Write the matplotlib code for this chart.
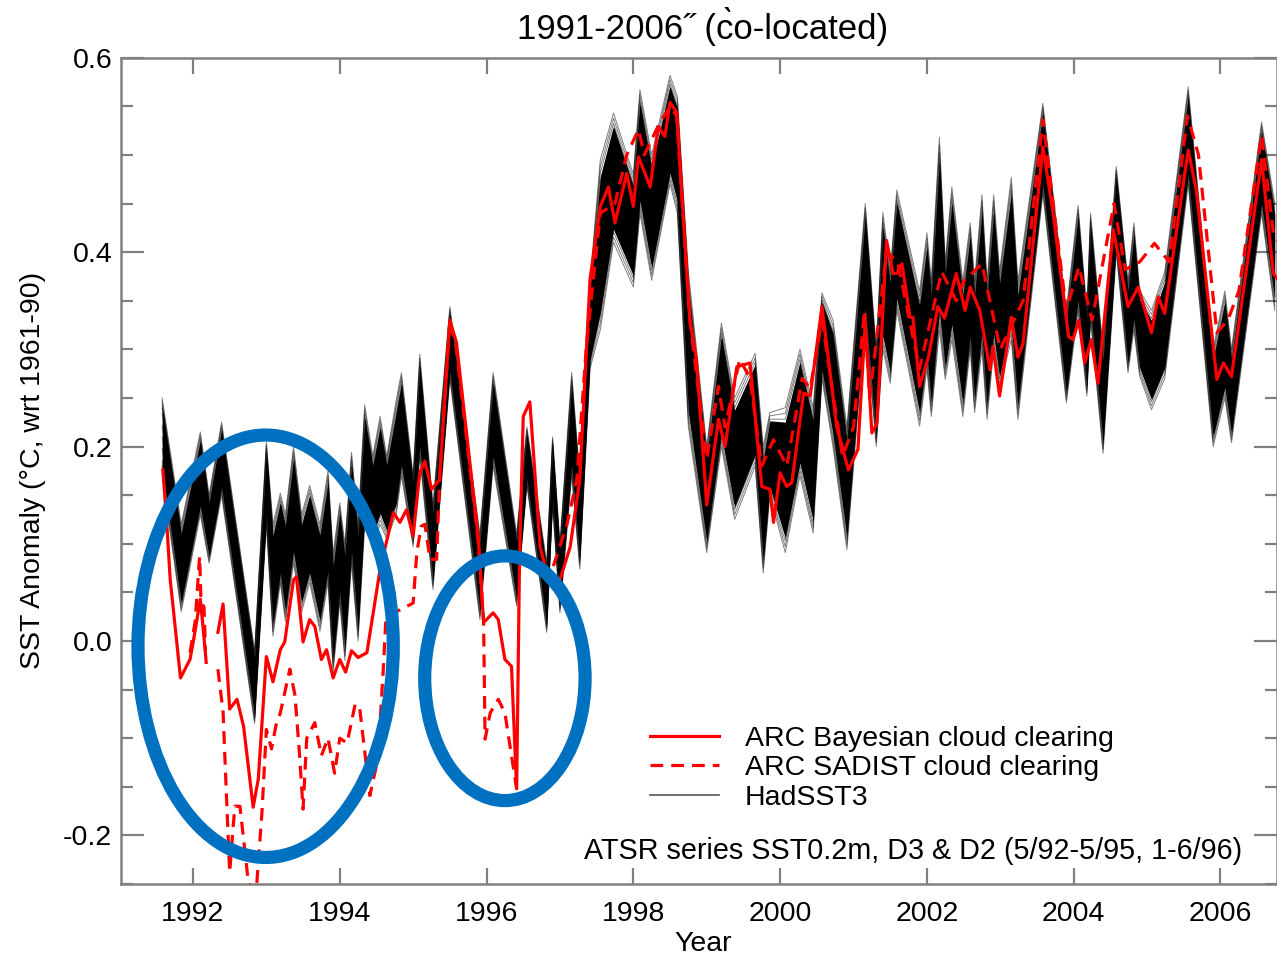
import numpy as np
import matplotlib
matplotlib.use("Agg")
import matplotlib.pyplot as plt
from matplotlib.lines import Line2D
from matplotlib.patches import Ellipse

plt.rcParams['font.family'] = ['Liberation Sans', 'DejaVu Sans']

nan = float('nan')

# HadSST3 ensemble envelope (turning points): time, lower and upper edge
had_t = [1991.58, 1991.84, 1992.10, 1992.22, 1992.39, 1992.84, 1993.00, 1993.09, 1993.19, 1993.26,
         1993.37, 1993.48, 1993.59, 1993.73, 1993.84, 1993.91, 1994.00, 1994.07, 1994.16, 1994.25,
         1994.34, 1994.45, 1994.55, 1994.64, 1994.77, 1994.84, 1995.00, 1995.09, 1995.27, 1995.50,
         1995.91, 1996.09, 1996.41, 1996.55, 1996.82, 1996.90, 1997.00, 1997.16, 1997.27, 1997.41,
         1997.55, 1997.73, 1998.00, 1998.09, 1998.25, 1998.50, 1998.60, 1998.75, 1999.00, 1999.20,
         1999.38, 1999.66, 1999.77, 1999.86, 2000.07, 2000.27, 2000.45, 2000.57, 2000.72, 2000.91,
         2001.16, 2001.31, 2001.40, 2001.50, 2001.59, 2001.90, 2002.00, 2002.06, 2002.17, 2002.25,
         2002.34, 2002.49, 2002.59, 2002.65, 2002.75, 2002.82, 2002.91, 2002.99, 2003.15, 2003.24,
         2003.58, 2003.90, 2004.06, 2004.18, 2004.23, 2004.40, 2004.58, 2004.74, 2004.82, 2004.90,
         2005.06, 2005.24, 2005.56, 2005.90, 2006.06, 2006.15, 2006.56, 2006.74]
had_lo = [0.17, 0.03, 0.13, 0.08, 0.15, -0.085, 0.12, 0.005, 0.06, 0.02,
          0.08, 0.03, 0.06, 0.01, 0.06, -0.032, 0.04, -0.02, 0.08, 0.00,
          0.12, 0.10, 0.12, 0.105, 0.13, 0.17, 0.097, 0.19, 0.053, 0.27,
          0.022, 0.18, 0.036, 0.16, 0.009, 0.14, 0.029, 0.17, 0.074, 0.28,
          0.32, 0.41, 0.364, 0.44, 0.371, 0.47, 0.44, 0.22, 0.091, 0.20,
          0.125, 0.18, 0.07, 0.15, 0.091, 0.17, 0.111, 0.27, 0.20, 0.094,
          0.33, 0.20, 0.30, 0.265, 0.34, 0.221, 0.28, 0.231, 0.32, 0.269,
          0.31, 0.231, 0.30, 0.235, 0.30, 0.228, 0.30, 0.26, 0.31, 0.228,
          0.46, 0.245, 0.34, 0.252, 0.33, 0.193, 0.40, 0.276, 0.32, 0.272,
          0.238, 0.27, 0.47, 0.20, 0.25, 0.204, 0.44, 0.34]
had_hi = [0.25, 0.12, 0.215, 0.15, 0.225, -0.01, 0.205, 0.12, 0.152, 0.13,
          0.20, 0.13, 0.16, 0.12, 0.175, 0.09, 0.142, 0.10, 0.194, 0.12,
          0.243, 0.19, 0.231, 0.19, 0.248, 0.276, 0.17, 0.295, 0.14, 0.344,
          0.11, 0.276, 0.11, 0.22, 0.08, 0.21, 0.10, 0.276, 0.17, 0.37,
          0.495, 0.543, 0.48, 0.567, 0.50, 0.582, 0.56, 0.38, 0.20, 0.327,
          0.25, 0.296, 0.20, 0.235, 0.24, 0.30, 0.24, 0.358, 0.33, 0.22,
          0.45, 0.30, 0.441, 0.38, 0.464, 0.36, 0.42, 0.37, 0.518, 0.39,
          0.467, 0.37, 0.43, 0.37, 0.459, 0.37, 0.459, 0.38, 0.477, 0.37,
          0.553, 0.34, 0.448, 0.34, 0.44, 0.30, 0.488, 0.37, 0.43, 0.36,
          0.34, 0.38, 0.57, 0.30, 0.36, 0.30, 0.534, 0.45]

# ARC Bayesian cloud clearing
bayes_t = [1991.59, 1991.64, 1991.69, 1991.83, 1991.96, 1992.01, 1992.10, 1992.14, 1992.18, 1992.26,
           1992.34, 1992.41, 1992.50, 1992.60, 1992.69, 1992.82, 1992.89, 1993.00, 1993.09, 1993.19,
           1993.25, 1993.37, 1993.41, 1993.50, 1993.59, 1993.66, 1993.75, 1993.82, 1993.91, 1994.00,
           1994.08, 1994.16, 1994.25, 1994.37, 1994.55, 1994.73, 1994.82, 1994.91, 1995.00, 1995.09,
           1995.16, 1995.25, 1995.36, 1995.50, 1995.59, 1995.89, 1995.96, 1996.00, 1996.09, 1996.16,
           1996.25, 1996.34, 1996.41, 1996.45, 1996.50, 1996.59, 1996.73, 1996.82, 1997.00, 1997.14,
           1997.27, 1997.41, 1997.55, 1997.66, 1997.75, 1997.91, 1998.00, 1998.07, 1998.23, 1998.34,
           1998.43, 1998.50, 1998.59, 1998.77, 1998.86, 1999.00, 1999.16, 1999.25, 1999.41, 1999.59,
           1999.75, 1999.86, 1999.91, 2000.00, 2000.09, 2000.16, 2000.32, 2000.41, 2000.57, 2000.77,
           2000.93, 2001.06, 2001.16, 2001.25, 2001.32, 2001.45, 2001.54, 2001.59, 2001.66, 2001.77,
           2001.81, 2001.90, 2002.02, 2002.15, 2002.24, 2002.40, 2002.52, 2002.59, 2002.72, 2002.86,
           2002.90, 2002.99, 2003.15, 2003.24, 2003.31, 2003.58, 2003.72, 2003.93, 2003.99, 2004.07,
           2004.15, 2004.24, 2004.33, 2004.54, 2004.74, 2004.88, 2005.06, 2005.15, 2005.24, 2005.56,
           2005.67, 2005.95, 2006.04, 2006.15, 2006.56, 2006.72, 2006.80]
bayes_v = [0.176, 0.125, 0.063, -0.038, -0.019, 0.002, 0.043, 0.012, -0.022, nan,
           0.009, 0.038, -0.070, -0.060, -0.088, -0.171, -0.142, -0.016, -0.042, -0.009,
           -0.001, 0.063, 0.066, -0.001, 0.022, 0.015, -0.019, -0.009, -0.038, -0.019,
           -0.032, -0.010, -0.017, -0.012, 0.074, 0.132, 0.122, 0.135, 0.108, 0.173,
           0.185, 0.156, 0.166, 0.330, 0.307, 0.104, 0.019, 0.022, 0.029, 0.022,
           -0.019, -0.026, -0.152, 0.087, 0.231, 0.246, 0.097, 0.070, 0.063, 0.097,
           0.166, 0.372, 0.447, 0.467, 0.430, 0.481, 0.447, 0.498, 0.467, 0.529,
           0.519, 0.554, 0.544, 0.330, 0.289, 0.140, 0.228, 0.200, 0.282, 0.286,
           0.159, 0.156, 0.122, 0.173, 0.159, 0.163, 0.255, 0.252, 0.344, 0.221,
           0.176, 0.197, 0.327, 0.214, 0.224, 0.412, 0.378, 0.378, 0.388, 0.333,
           0.333, 0.262, 0.292, 0.344, 0.332, 0.378, 0.340, 0.364, 0.340, 0.279,
           0.303, 0.252, 0.333, 0.292, 0.306, 0.508, 0.440, 0.313, 0.310, 0.330,
           0.286, 0.310, 0.265, 0.423, 0.344, 0.364, 0.317, 0.354, 0.337, 0.505,
           0.464, 0.269, 0.286, 0.272, 0.495, 0.378, 0.370]

# ARC SADIST cloud clearing
sadist_t = [1991.96, 1992.03, 1992.09, 1992.11, 1992.15, 1992.17, 1992.26, 1992.34, 1992.41, 1992.46,
            1992.50, 1992.57, 1992.64, 1992.75, 1992.85, 1992.94, 1993.00, 1993.07, 1993.13, 1993.19,
            1993.32, 1993.39, 1993.45, 1993.50, 1993.55, 1993.66, 1993.75, 1993.84, 1993.93, 1994.00,
            1994.10, 1994.21, 1994.27, 1994.41, 1994.52, 1994.59, 1994.63, 1994.82, 1995.00, 1995.05,
            1995.11, 1995.16, 1995.23, 1995.32, 1995.36, 1995.50, 1995.59, 1995.89, 1995.96, 1995.98,
            1996.05, 1996.16, 1996.25, 1996.34, 1996.41, 1996.60, 1996.91, 1997.09, 1997.23, 1997.36,
            1997.55, 1997.75, 1997.91, 1998.07, 1998.15, 1998.34, 1998.50, 1998.59, 1998.77, 1999.00,
            1999.16, 1999.25, 1999.45, 1999.59, 1999.75, 1999.91, 2000.09, 2000.30, 2000.41, 2000.57,
            2000.85, 2001.00, 2001.15, 2001.22, 2001.45, 2001.60, 2001.90, 2002.20, 2002.40, 2002.50,
            2002.75, 2003.00, 2003.31, 2003.58, 2003.90, 2004.07, 2004.25, 2004.55, 2004.70, 2004.90,
            2005.10, 2005.30, 2005.55, 2005.70, 2005.95, 2006.10, 2006.25, 2006.56, 2006.72, 2006.80]
sadist_v = [-0.012, 0.020, 0.087, 0.040, 0.035, -0.010, nan, -0.029, -0.073, -0.166,
            -0.238, -0.170, -0.170, -0.245, -0.270, -0.176, -0.091, -0.111, -0.087, -0.074,
            -0.029, -0.056, -0.115, -0.173, -0.100, -0.084, -0.118, -0.100, -0.136, -0.100,
            -0.105, -0.065, -0.068, -0.159, -0.121, -0.033, 0.025, 0.032, 0.039, 0.091,
            0.118, 0.120, 0.084, 0.084, 0.166, 0.330, 0.300, 0.100, 0.019, -0.101,
            -0.074, -0.060, -0.074, -0.118, -0.152, nan, 0.077, 0.118, 0.166, 0.303,
            0.440, 0.450, 0.500, 0.526, 0.500, 0.530, 0.550, 0.540, 0.330, 0.187,
            0.262, 0.220, 0.290, 0.270, 0.180, 0.207, 0.180, 0.270, 0.260, 0.330,
            0.190, 0.220, 0.340, 0.250, 0.400, 0.390, 0.280, 0.380, 0.350, 0.370,
            0.388, 0.300, 0.350, 0.536, 0.340, 0.385, 0.330, 0.450, 0.382, 0.390,
            0.409, 0.390, 0.540, 0.500, 0.317, 0.330, 0.360, 0.520, 0.420, 0.410]

yticks = [-0.2, 0.0, 0.2, 0.4, 0.6]
xticks = [1992, 1994, 1996, 1998, 2000, 2002, 2004, 2006]

fig = plt.figure(figsize=(12.77, 9.55), dpi=100)
ax = fig.add_axes([0.0945, 0.0743, 0.9055, 0.8653])

t = np.array(had_t)
lo = np.array(had_lo)
hi = np.array(had_hi)
w = hi - lo

# dense core of the ensemble plus thin member lines at the fringes
ax.fill_between(t, lo + 0.1 * w, hi - 0.1 * w, color='black', lw=0, zorder=2)
for f in [0.0, 0.04, 0.08, 0.13, 0.2, 0.35, 0.5, 0.65, 0.8, 0.87, 0.92, 0.96, 1.0]:
    ax.plot(t, lo + f * w, color='black', lw=0.7, alpha=0.5, zorder=2)

ax.plot(sadist_t, sadist_v, color='#ff0000', lw=2.3, dashes=(4, 2.5), zorder=3)
ax.plot(bayes_t, bayes_v, color='#ff0000', lw=2.3, zorder=4)

# blue highlight rings
ax.add_patch(Ellipse((1992.99, -0.0054), 3.478, 0.4345, fill=False,
                     ec='#0070c0', lw=9.5, zorder=6, clip_on=False))
ax.add_patch(Ellipse((1996.25, -0.0383), 2.185, 0.2517, fill=False,
                     ec='#0070c0', lw=9.5, zorder=6, clip_on=False))

ax.set_xlim(1991.015, 2006.77)
ax.set_ylim(-0.25, 0.6)
ax.set_xticks(xticks)
ax.set_yticks(yticks)
ax.set_yticks(np.arange(-0.25, 0.6, 0.05), minor=True)
ax.set_yticklabels(['%.1f' % v for v in yticks])
ax.tick_params(axis='both', which='both', direction='in', top=True, right=True,
               color='#808080', labelsize=20.5)
ax.tick_params(axis='x', which='major', length=11.3, width=1.6, pad=12)
ax.tick_params(axis='y', which='major', length=16.5, width=1.6, pad=6)
ax.tick_params(axis='y', which='minor', length=8.6, width=1.6)
for s in ax.spines.values():
    s.set_color('#808080')
    s.set_linewidth(1.8)

ax.set_xlabel('Year', fontsize=20.5)
ax.xaxis.set_label_coords(0.5036, -0.057)
ax.set_ylabel('SST Anomaly (\u00b0C, wrt 1961-90)', fontsize=20.5)
ax.yaxis.set_label_coords(-0.065, 0.5)

fig.text(703 / 1277, 1 - 27 / 955, '1991-2006\u02dd (c\u0300o-located)', fontsize=25,
         ha='center', va='center')

handles = [Line2D([], [], color='#ff0000', lw=2.3),
           Line2D([], [], color='#ff0000', lw=2.3, dashes=(4, 2.5)),
           Line2D([], [], color='#555555', lw=1.2)]
labels = ['ARC Bayesian cloud clearing', 'ARC SADIST cloud clearing', 'HadSST3']
ax.legend(handles, labels, loc='upper left', bbox_to_anchor=(650 / 1277, 1 - 726 / 955),
          bbox_transform=fig.transFigure, frameon=False, fontsize=20.5,
          handlelength=2.44, handletextpad=0.9, labelspacing=0.12,
          borderpad=0, borderaxespad=0)

ax.text(0.6852, 0.0399, 'ATSR series SST0.2m, D3 & D2 (5/92-5/95, 1-6/96)',
        transform=ax.transAxes, fontsize=20.7, ha='center', va='center', zorder=7)

fig.savefig('out.png', dpi=100)
